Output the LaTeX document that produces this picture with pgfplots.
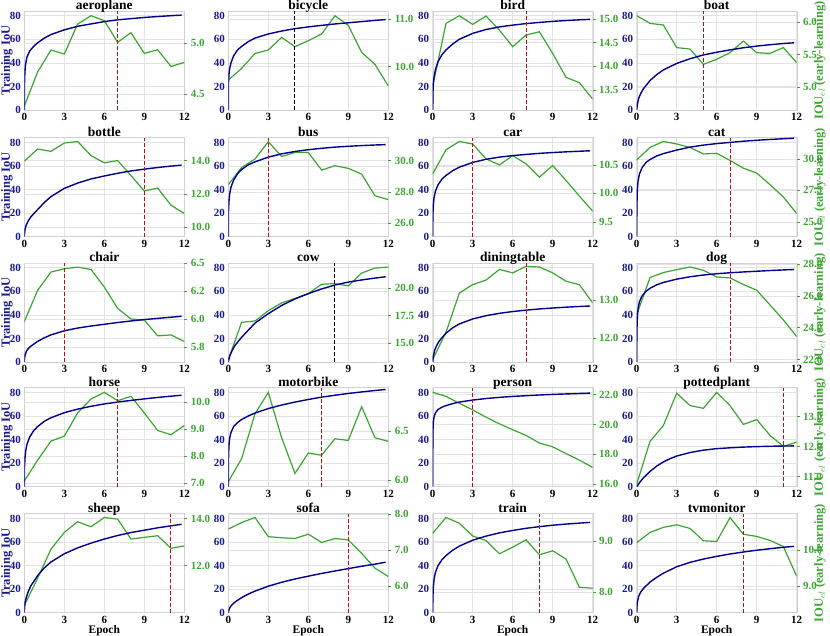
\documentclass[border=0pt]{standalone}
\usepackage{fontspec}
\setmainfont{Liberation Serif}
\usepackage{pgfplots}
\pgfplotsset{compat=1.18}
\definecolor{navyl}{RGB}{0,0,139}
\definecolor{navyt}{RGB}{25,25,140}
\definecolor{grn}{RGB}{60,165,50}
\definecolor{dred}{RGB}{180,20,20}
\pgfplotsset{
 common/.style={scale only axis, width=160pt, height=99pt, anchor=south west, xmin=0, xmax=12,
   /pgf/number format/assume math mode=true,
   ticklabel style={font=\fontsize{11}{12}\selectfont\bfseries},
   grid style={line width=0.6pt, draw=black!11}},
 leftax/.style={common, ymin=0, ymax=84, xtick={0,3,6,9,12}, ytick={0,20,40,60,80},
   xmajorgrids, ymajorgrids, axis line style={draw=black!18}, tick style={draw=none},
   yticklabel style={text=navyt}, xticklabel style={text=black},
   title style={at={(axis description cs:0.5,1)}, anchor=base, yshift=-4.5pt, font=\fontsize{13.5}{15}\selectfont\bfseries},
   ylabel style={at={(axis description cs:-0.108,0.5)}, anchor=center, font=\fontsize{12.5}{14}\selectfont\bfseries, text=navyt},
   xlabel style={at={(axis description cs:0.5,-0.178)}, anchor=center, font=\fontsize{11.5}{13}\selectfont\bfseries}},
 rightax/.style={common, axis x line=none, axis y line*=right, ymajorgrids, axis line style={draw=none},
   ytick style={draw=grn, line width=0.6pt}, major tick length=3pt, tick align=outside,
   yticklabel style={text=grn, /pgf/number format/fixed, /pgf/number format/fixed zerofill, /pgf/number format/precision=1},
   ylabel style={at={(axis description cs:1.145,0.5)}, anchor=center, font=\fontsize{12.5}{14}\selectfont\bfseries, text=grn}},
 plotax/.style={common, ymin=0, ymax=84, axis lines=none, xtick=\empty, ytick=\empty},
 rlab/.style={ylabel={IOU$_{el}$ (early-learning)}},
 blueline/.style={navyl, line width=1.4pt, no marks},
 greenline/.style={grn, line width=1.2pt, no marks},
 vline/.style={line width=1pt, dash pattern=on 4pt off 2pt, no marks}
}
\newcommand{\panel}[9]{%
\begin{axis}[leftax, at={(#1pt,#2pt)}, title={#3}, #4]
\end{axis}
\begin{axis}[rightax, at={(#1pt,#2pt)}, #8]
\addplot[greenline] coordinates {#9};
\end{axis}
\begin{axis}[plotax, at={(#1pt,#2pt)}]
\addplot[blueline] coordinates {#5};
\addplot[vline, #7] coordinates {(#6,0) (#6,84)};
\end{axis}}
\begin{document}
\begin{tikzpicture}
\path[use as bounding box] (0,0) rectangle (830pt,636pt);
% row 1
\panel{24.3}{526}{aeroplane}{ylabel={Training IoU}}
{(0,0) (0.02,25) (0.05,33) (0.1,39) (0.2,45) (0.4,50) (0.7,54) (1,57) (1.5,61) (2,64) (3,68) (4,71) (5,73) (6,75) (7,76.5) (8,77.5) (9,78.5) (10,79.3) (11,80) (11.8,80.5)}
{7}{dred}{ymin=4.346, ymax=5.318, ytick={4.5,5.0}}
{(0,4.385) (1,4.719) (2,4.935) (3,4.896) (4,5.189) (5,5.272) (6,5.223) (7,5.010) (8,5.105) (9,4.901) (10,4.938) (11,4.774) (12,4.813)}
\panel{228.3}{526}{bicycle}{}
{(0,0) (0.01,22) (0.05,30) (0.1,35) (0.2,40) (0.4,46) (0.7,51) (1,54) (1.5,58) (2,61) (3,64.5) (4,67) (5,69) (6,70.5) (7,71.8) (8,73) (9,74) (10,75) (11,76) (11.8,76.7)}
{5}{black}{ymin=9.087, ymax=11.177, ytick={10.0,11.0}}
{(0,9.719) (1,9.965) (2,10.281) (3,10.353) (4,10.620) (5,10.423) (6,10.550) (7,10.692) (8,11.077) (9,10.873) (10,10.304) (11,10.050) (12,9.595)}
\panel{432.7}{526}{bird}{}
{(0,0) (0.02,15) (0.05,22) (0.1,28) (0.2,34) (0.4,41) (0.7,47) (1,51) (1.5,56) (2,60) (3,65) (4,68.3) (5,70.5) (6,72) (7,73.3) (8,74.3) (9,75.2) (10,75.9) (11,76.5) (11.8,76.9)}
{7}{dred}{ymin=13.077, ymax=15.167, ytick={13.5,14.0,14.5,15.0}}
{(0,13.575) (1,14.906) (2,15.067) (3,14.883) (4,15.060) (5,14.764) (6,14.413) (7,14.659) (8,14.729) (9,14.271) (10,13.766) (11,13.654) (12,13.308)}
\panel{636.7}{526}{boat}{}
{(0,0) (0.05,5) (0.15,10) (0.3,14) (0.5,18) (1,25) (1.5,30) (2,34) (3,39.5) (4,43.5) (5,46.7) (6,49) (7,51) (8,52.8) (9,54.2) (10,55.4) (11,56.4) (11.8,57)}
{5}{dred}{ymin=4.655, ymax=6.166, ytick={5.0,5.5,6.0}, rlab}
{(0,6.094) (1,5.977) (2,5.952) (3,5.607) (4,5.585) (5,5.351) (6,5.429) (7,5.529) (8,5.707) (9,5.529) (10,5.519) (11,5.607) (12,5.376)}
% row 2
\panel{24.3}{399.3}{bottle}{ylabel={Training IoU}}
{(0,0) (0.05,6) (0.15,10) (0.3,13.5) (0.5,17) (1,23) (1.5,29) (2,34) (3,41) (4,45.5) (5,49) (6,51.5) (7,53.8) (8,55.8) (9,57.3) (10,58.7) (11,59.9) (11.8,60.7)}
{9}{dred}{ymin=9.441, ymax=15.38, ytick={10,12,14}}
{(0,13.97) (1,14.70) (2,14.56) (3,15.06) (4,15.15) (5,14.31) (6,13.87) (7,14.01) (8,13.11) (9,12.18) (10,12.36) (11,11.33) (12,10.83)}
\panel{228.3}{399.3}{bus}{}
{(0,0) (0.01,20) (0.05,30) (0.1,36) (0.2,42) (0.4,48) (0.7,53.5) (1,57) (1.5,61) (2,63.5) (3,67.5) (4,70.3) (5,72.3) (6,73.8) (7,75) (8,76) (9,76.7) (10,77.3) (11,77.8) (11.8,78.1)}
{3}{dred}{ymin=25.12, ymax=31.48, ytick={26,28,30}}
{(0,28.46) (1,29.57) (2,30.11) (3,31.22) (4,30.27) (5,30.53) (6,30.53) (7,29.40) (8,29.68) (9,29.51) (10,29.14) (11,27.75) (12,27.50)}
\panel{432.7}{399.3}{car}{}
{(0,0) (0.01,18) (0.05,27) (0.1,33) (0.2,38.5) (0.4,44) (0.7,49) (1,52) (1.5,56) (2,59) (3,63) (4,65.7) (5,67.5) (6,68.8) (7,69.8) (8,70.7) (9,71.4) (10,72) (11,72.5) (11.8,72.9)}
{3}{dred}{ymin=9.239, ymax=10.978, ytick={9.5,10.0,10.5}}
{(0,10.342) (1,10.767) (2,10.912) (3,10.866) (4,10.605) (5,10.500) (6,10.663) (7,10.518) (8,10.284) (9,10.489) (10,10.226) (11,9.953) (12,9.686)}
\panel{636.7}{399.3}{cat}{}
{(0,0) (0.01,25) (0.05,40) (0.1,47) (0.2,53) (0.4,58.5) (0.7,63) (1,65.5) (1.5,68.5) (2,70.5) (3,73.5) (4,76) (5,77.7) (6,79) (7,80) (8,81) (9,81.8) (10,82.5) (11,83.1) (11.8,83.6)}
{7}{dred}{ymin=23.82, ymax=31.68, ytick={25,27.5,30}, rlab}
{(0,29.91) (1,30.91) (2,31.38) (3,31.18) (4,30.91) (5,30.39) (6,30.44) (7,29.87) (8,29.26) (9,28.87) (10,27.95) (11,26.97) (12,25.65)}
% row 3
\panel{24.3}{274}{chair}{ylabel={Training IoU}}
{(0,0) (0.02,3) (0.05,5.5) (0.15,9) (0.3,11.5) (0.5,13.5) (1,17.5) (1.5,20.5) (2,23) (3,26.5) (4,28.8) (5,30.5) (6,32) (7,33.5) (8,34.8) (9,36) (10,37) (11,38) (11.8,38.8)}
{3}{dred}{ymin=5.615, ymax=6.502, ytick={5.75,6.0,6.25,6.5}, yticklabels={5.8,6.0,6.2,6.5}}
{(0,5.976) (1,6.257) (2,6.421) (3,6.450) (4,6.465) (5,6.444) (6,6.287) (7,6.095) (8,6.000) (9,5.991) (10,5.849) (11,5.858) (12,5.799)}
\panel{228.3}{274}{cow}{}
{(0,0) (0.1,5) (0.3,10) (0.5,14) (1,21) (1.5,27) (2,33) (3,41) (4,48) (5,53.5) (6,58) (7,62) (8,65.3) (9,67.8) (10,69.6) (11,71.2) (11.8,72.3)}
{8}{black}{ymin=13.29, ymax=22.25, ytick={15,17.5,20}}
{(0,13.50) (1,16.88) (2,17.00) (3,17.93) (4,18.64) (5,19.04) (6,19.48) (7,20.33) (8,20.38) (9,20.18) (10,21.34) (11,21.79) (12,21.88)}
\panel{432.7}{274}{diningtable}{}
{(0,0) (0.05,5) (0.15,10) (0.3,14) (0.5,18) (1,24.5) (1.5,29) (2,32.3) (3,36.5) (4,39.3) (5,41.3) (6,42.8) (7,44) (8,45) (9,45.8) (10,46.5) (11,47.1) (11.8,47.5)}
{7}{dred}{ymin=11.375, ymax=13.98, ytick={12,13}}
{(0,11.44) (1,12.16) (2,13.19) (3,13.41) (4,13.53) (5,13.81) (6,13.72) (7,13.89) (8,13.875) (9,13.72) (10,13.50) (11,13.41) (12,12.93)}
\panel{636.7}{274}{dog}{}
{(0,0) (0.01,25) (0.05,38) (0.1,45) (0.2,51) (0.4,56) (0.7,60) (1,62.5) (1.5,65.5) (2,67.5) (3,70.3) (4,72.3) (5,73.8) (6,74.9) (7,75.7) (8,76.4) (9,77) (10,77.6) (11,78.1) (11.8,78.5)}
{7}{dred}{ymin=21.85, ymax=28.07, ytick={22,24,26,28}, rlab}
{(0,24.81) (1,27.16) (2,27.47) (3,27.65) (4,27.82) (5,27.61) (6,27.19) (7,27.13) (8,26.72) (9,26.36) (10,25.43) (11,24.49) (12,23.45)}
% row 4
\panel{24.3}{149.3}{horse}{ylabel={Training IoU}}
{(0,0) (0.01,15) (0.05,24) (0.1,30) (0.2,36) (0.4,42) (0.7,47.5) (1,51) (1.5,55.5) (2,58.5) (3,62.8) (4,65.8) (5,68.2) (6,70.2) (7,71.8) (8,73.2) (9,74.5) (10,75.7) (11,76.8) (11.8,77.6)}
{7}{dred}{ymin=6.878, ymax=10.54, ytick={7,8,9,10}}
{(0,7.087) (1,7.859) (2,8.565) (3,8.748) (4,9.607) (5,10.12) (6,10.37) (7,10.06) (8,10.22) (9,9.607) (10,8.958) (11,8.801) (12,9.141)}
\panel{228.3}{149.3}{motorbike}{}
{(0,0) (0.01,22) (0.05,35) (0.1,41) (0.2,46) (0.4,51) (0.7,54.5) (1,57) (1.5,60) (2,62.5) (3,66.3) (4,69.3) (5,71.8) (6,74) (7,76) (8,77.6) (9,79.1) (10,80.4) (11,81.6) (11.8,82.5)}
{7}{dred}{ymin=5.933, ymax=6.943, ytick={6.0,6.5}}
{(0,5.983) (1,6.220) (2,6.676) (3,6.895) (4,6.432) (5,6.068) (6,6.277) (7,6.254) (8,6.422) (9,6.405) (10,6.749) (11,6.432) (12,6.396)}
\panel{432.7}{149.3}{person}{}
{(0,0) (0.005,30) (0.02,48) (0.05,55) (0.1,59) (0.2,62.5) (0.4,65.5) (0.7,67.5) (1,68.8) (1.5,70.5) (2,71.8) (3,73.5) (4,74.8) (5,75.8) (6,76.6) (7,77.2) (8,77.8) (9,78.3) (10,78.7) (11,79.1) (11.8,79.4)}
{3}{dred}{ymin=15.83, ymax=22.47, ytick={16,18,20,22}}
{(0,22.16) (1,21.89) (2,21.42) (3,20.98) (4,20.49) (5,20.05) (6,19.65) (7,19.27) (8,18.76) (9,18.50) (10,18.05) (11,17.61) (12,17.12)}
\panel{636.7}{149.3}{pottedplant}{}
{(0,0) (0.25,4) (0.5,7.5) (1,13) (1.5,17.5) (2,21) (2.5,23.8) (3,26) (4,29) (5,31) (6,32.3) (7,33) (8,33.6) (9,34) (10,34.3) (11,34.5) (11.8,34.6)}
{11}{dred}{ymin=10.671, ymax=13.959, ytick={11,12,13}, rlab}
{(0,10.757) (1,12.178) (2,12.702) (3,13.779) (4,13.364) (5,13.274) (6,13.802) (7,13.364) (8,12.738) (9,12.902) (10,12.374) (11,12.010) (12,12.154)}
% row 5
\panel{24.3}{23.3}{sheep}{ylabel={Training IoU}, xlabel={Epoch}}
{(0,0) (0.05,8) (0.15,13) (0.3,18) (0.5,23) (1,31.5) (1.5,38) (2,43) (3,50) (4,55) (5,59) (6,62.5) (7,65.5) (8,68) (9,70) (10,72) (11,73.7) (11.8,75)}
{11}{dred}{ymin=10.02, ymax=14.20, ytick={12,14}}
{(0,10.32) (1,11.48) (2,12.70) (3,13.41) (4,13.86) (5,13.65) (6,14.04) (7,13.97) (8,13.13) (9,13.20) (10,13.27) (11,12.74) (12,12.84)}
\panel{228.3}{23.3}{sofa}{xlabel={Epoch}}
{(0,0) (0.05,2.5) (0.15,5) (0.3,7) (0.5,9) (1,12.8) (1.5,15.8) (2,18.3) (3,22.5) (4,25.8) (5,28.6) (6,31) (7,33.3) (8,35.4) (9,37.4) (10,39.4) (11,41.2) (11.8,42.8)}
{9}{dred}{ymin=5.27, ymax=8.005, ytick={6,7,8}}
{(0,7.58) (1,7.76) (2,7.90) (3,7.37) (4,7.34) (5,7.32) (6,7.44) (7,7.21) (8,7.32) (9,7.28) (10,6.91) (11,6.50) (12,6.27)}
\panel{432.7}{23.3}{train}{xlabel={Epoch}}
{(0,0) (0.01,12) (0.05,22) (0.1,28) (0.2,34) (0.4,40) (0.7,45) (1,48.5) (1.5,53) (2,56.5) (3,61.5) (4,65) (5,67.7) (6,69.8) (7,71.6) (8,73) (9,74.2) (10,75.2) (11,76) (11.8,76.6)}
{8}{dred}{ymin=7.60, ymax=9.531, ytick={8,9}}
{(0,9.150) (1,9.458) (2,9.343) (3,9.097) (4,9.007) (5,8.750) (6,8.878) (7,9.021) (8,8.729) (9,8.807) (10,8.646) (11,8.097) (12,8.078)}
\panel{636.7}{23.3}{tvmonitor}{xlabel={Epoch}}
{(0,0) (0.02,5) (0.05,9) (0.15,14) (0.3,17.5) (0.5,20.5) (1,26) (1.5,30) (2,33.5) (3,39) (4,42.7) (5,45.5) (6,47.8) (7,49.8) (8,51.5) (9,53) (10,54.3) (11,55.5) (11.8,56.3)}
{8}{dred}{ymin=8.269, ymax=10.996, ytick={9,10}, rlab}
{(0,10.20) (1,10.48) (2,10.62) (3,10.69) (4,10.59) (5,10.25) (6,10.23) (7,10.89) (8,10.43) (9,10.37) (10,10.26) (11,10.09) (12,9.27)}
\end{tikzpicture}
\end{document}
